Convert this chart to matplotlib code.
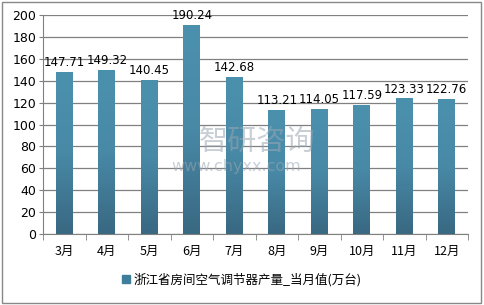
import numpy as np
import matplotlib
matplotlib.use("Agg")
import matplotlib.pyplot as plt
from matplotlib.patches import Rectangle

plt.rcParams['font.family'] = ['Noto Sans CJK SC', 'DejaVu Sans']

months = ["3月", "4月", "5月", "6月", "7月", "8月", "9月", "10月", "11月", "12月"]
values = [147.71, 149.32, 140.45, 190.24, 142.68, 113.21, 114.05, 117.59, 123.33, 122.76]
series_name = "浙江省房间空气调节器产量_当月值(万台)"
yticks = [0, 20, 40, 60, 80, 100, 120, 140, 160, 180, 200]

fig = plt.figure(figsize=(4.84, 3.05), dpi=100)
ax = fig.add_axes([43 / 484, 1 - 234 / 305, 425 / 484, 219 / 305])

x = np.arange(len(months))
bars = ax.bar(x, values, width=0.4, color="#4287a5", zorder=3, label=series_name)

# vertical gradient on each bar
grad = np.linspace(0, 1, 256).reshape(-1, 1)
cmap = matplotlib.colors.LinearSegmentedColormap.from_list("b", ["#396882", "#4889a6", "#4b91ae"])
for b in bars:
    bx, by, bw, bh = b.get_x(), b.get_y(), b.get_width(), b.get_height()
    ax.imshow(grad, extent=[bx, bx + bw, by, by + bh], origin="lower", cmap=cmap,
              aspect="auto", zorder=3)
    b.set_alpha(0)

for xi, v in zip(x, values):
    ax.text(xi, v + 3, "%.2f" % v, ha="center", va="bottom", fontsize=8.5,
            family="DejaVu Sans", zorder=4)

ax.set_xlim(-0.5, len(months) - 0.5)
ax.set_ylim(0, 200)
ax.set_yticks(yticks)
ax.set_yticklabels([str(t) for t in yticks], fontsize=9, family="DejaVu Sans")
ax.yaxis.grid(True, color="#808080", linewidth=0.9, zorder=0)
ax.set_xticks(x)
ax.set_xticklabels(months, fontsize=9)
ax.set_xticks(np.arange(-0.5, len(months)), minor=True)
ax.tick_params(axis="x", which="major", length=0, pad=8)
ax.tick_params(axis="x", which="minor", length=4, color="#808080", direction="out")
ax.tick_params(axis="y", length=3, color="#808080", pad=2)
for s in ["top", "right"]:
    ax.spines[s].set_visible(False)
ax.spines["left"].set_color("#808080")
ax.spines["bottom"].set_color("#808080")

# watermark
fig.text(0.41, 0.535, "智研咨询", fontsize=21, color="#9aa6b2", alpha=0.55, va="center")
fig.text(0.355, 0.455, "www.chyxx.com", fontsize=11.5, color="#9aa6b2", alpha=0.55,
         family="DejaVu Sans", va="center")

handle = Rectangle((0, 0), 1, 1, color="#3f7e9b")
fig.legend([handle], [series_name], loc="center", bbox_to_anchor=(0.5, 1 - 280 / 305),
           frameon=False, fontsize=9, handlelength=0.6, handleheight=0.6, handletextpad=0.3)

fig.patches.append(Rectangle((0.004, 0.006), 0.99, 0.988, transform=fig.transFigure,
                             fill=False, edgecolor="#888888", linewidth=1))

fig.savefig("out.png", dpi=100)
